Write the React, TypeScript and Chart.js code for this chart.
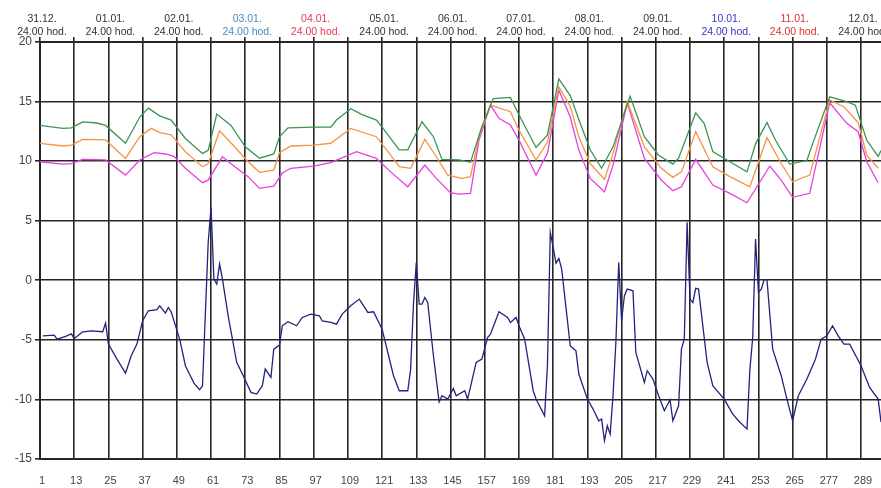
import React, { useEffect, useRef } from "react";
import { Chart, registerables } from "chart.js";

Chart.register(...registerables);

// ---- axis labels ----
const xTickValues = [1, 13, 25, 37, 49, 61, 73, 85, 97, 109, 121, 133, 145, 157, 169, 181, 193, 205, 217, 229, 241, 253, 265, 277, 289];
const dayTickValues = [1, 25, 49, 73, 97, 121, 145, 169, 193, 217, 241, 265, 289];
const dayLabels = ["31.12.", "01.01.", "02.01.", "03.01.", "04.01.", "05.01.", "06.01.", "07.01.", "08.01.", "09.01.", "10.01.", "11.01.", "12.01."];
const dayLabelColors = ["#333", "#333", "#333", "#4a8cc0", "#e8384f", "#333", "#333", "#333", "#333", "#333", "#3535c8", "#e03030", "#333"];
const timeLabel = "24.00 hod.";
const yTickValues = [-15, -10, -5, 0, 5, 10, 15, 20];

// ---- green series ----
const greenHours = [1, 9, 12, 16, 21, 24, 31, 36, 39, 43, 47, 52, 58, 60, 63, 68, 73, 78, 83, 85, 88, 97, 103, 105, 110, 114, 119, 121, 127, 130, 135, 139, 142, 148, 152, 156, 160, 166, 169, 175, 179, 183, 187, 190, 194, 198, 202, 208, 213, 218, 223, 225, 231, 234, 237, 243, 249, 252, 256, 259, 264, 270, 272, 278, 284, 287, 291, 295, 296];
const greenValues = [13.0, 12.75, 12.8, 13.3, 13.2, 13.0, 11.5, 13.7, 14.45, 13.8, 13.45, 11.9, 10.65, 10.9, 13.95, 13.0, 11.2, 10.25, 10.6, 12.05, 12.8, 12.85, 12.85, 13.45, 14.4, 13.9, 13.45, 12.85, 10.95, 10.95, 13.3, 12.05, 10.15, 10.1, 9.9, 12.9, 15.25, 15.35, 13.9, 11.15, 12.2, 16.9, 15.5, 13.5, 10.95, 9.4, 11.2, 15.45, 12.05, 10.5, 9.75, 10.25, 14.05, 13.15, 10.8, 9.95, 9.1, 11.45, 13.25, 11.75, 9.75, 10.05, 11.45, 15.4, 15.0, 14.7, 11.75, 10.4, 10.9];

// ---- orange series ----
const orangeHours = [1, 9, 12, 16, 24, 31, 36, 40, 43, 47, 52, 58, 60, 64, 69, 74, 78, 83, 85, 89, 97, 103, 110, 119, 124, 127, 131, 136, 140, 144, 149, 152, 155, 159, 166, 169, 175, 179, 183, 187, 190, 194, 199, 202, 207, 213, 219, 223, 226, 231, 237, 243, 250, 256, 261, 265, 271, 278, 283, 288, 291, 295];
const orangeValues = [11.5, 11.27, 11.35, 11.83, 11.78, 10.23, 12.05, 12.75, 12.4, 12.2, 10.79, 9.53, 9.8, 12.55, 11.27, 9.95, 9.06, 9.25, 10.7, 11.27, 11.35, 11.5, 12.75, 12.05, 10.51, 9.53, 9.4, 11.83, 10.37, 8.83, 8.55, 8.7, 12.05, 14.71, 14.15, 12.61, 10.09, 11.6, 16.25, 14.6, 12.05, 9.8, 8.47, 10.65, 14.99, 11.2, 9.4, 8.64, 9.1, 12.47, 9.53, 8.7, 7.85, 11.97, 9.8, 8.27, 8.83, 15.13, 14.57, 13.23, 10.51, 9.4];

// ---- magenta series ----
const magentaHours = [1, 9, 12, 16, 24, 31, 36, 41, 45, 48, 52, 58, 60, 65, 69, 74, 78, 83, 86, 89, 97, 103, 112, 119, 124, 130, 136, 140, 145, 148, 152, 155, 159, 162, 166, 169, 175, 179, 183, 187, 190, 194, 199, 202, 207, 213, 219, 223, 226, 231, 237, 243, 249, 257, 261, 265, 271, 278, 284, 288, 291, 295];
const magentaValues = [9.95, 9.75, 9.8, 10.15, 10.1, 8.83, 10.1, 10.71, 10.6, 10.4, 9.4, 8.19, 8.4, 10.37, 9.6, 8.7, 7.71, 7.9, 9.0, 9.4, 9.59, 9.87, 10.79, 10.23, 9.1, 7.85, 9.67, 8.55, 7.35, 7.24, 7.3, 11.78, 14.71, 13.59, 13.03, 11.77, 8.83, 10.65, 15.97, 13.7, 10.93, 8.55, 7.43, 9.67, 14.9, 10.23, 8.4, 7.52, 7.85, 10.15, 7.99, 7.3, 6.51, 9.59, 8.4, 6.96, 7.3, 14.9, 13.17, 12.47, 9.95, 8.19];

// ---- navy series ----
const navyHours = [2, 6, 7, 10, 12, 13, 16, 19, 23, 24, 25, 28, 31, 33, 35, 37, 39, 42, 43, 45, 46, 47, 50, 52, 55, 57, 58, 60, 61, 62, 63, 64, 65, 67, 70, 72, 75, 77, 79, 80, 82, 83, 85, 86, 88, 91, 93, 96, 99, 100, 103, 105, 107, 110, 113, 116, 118, 121, 123, 125, 127, 130, 131, 132, 133, 134, 135, 136, 137, 139, 141, 142, 144, 146, 147, 150, 151, 154, 156, 158, 159, 162, 165, 166, 168, 169, 171, 174, 175, 178, 179, 180, 181, 182, 183, 184, 187, 189, 190, 193, 195, 197, 198, 199, 200, 201, 202, 203, 204, 205, 206, 207, 209, 210, 213, 214, 216, 218, 220, 222, 223, 225, 226, 227, 228, 229, 230, 231, 232, 235, 237, 241, 244, 246, 249, 250, 251, 252, 253, 254, 255, 256, 258, 261, 263, 265, 267, 270, 273, 275, 277, 279, 281, 283, 285, 289, 292, 295, 296];
const navyValues = [-4.66, -4.6, -4.94, -4.7, -4.5, -4.88, -4.32, -4.24, -4.32, -3.59, -5.36, -6.62, -7.79, -6.33, -5.36, -3.4, -2.56, -2.47, -2.14, -2.75, -2.28, -2.64, -4.94, -7.17, -8.63, -9.19, -8.85, 3.18, 6.12, 0.1, -0.32, 1.36, 0.1, -2.98, -6.89, -7.87, -9.41, -9.55, -8.85, -7.45, -8.15, -5.78, -5.44, -3.82, -3.48, -3.82, -3.12, -2.84, -2.98, -3.4, -3.54, -3.68, -2.84, -2.14, -1.58, -2.7, -2.64, -4.1, -6.06, -8.01, -9.27, -9.27, -7.5, -2.0, 1.5, -2.0, -2.0, -1.44, -1.86, -6.33, -10.2, -9.69, -9.97, -9.08, -9.69, -9.27, -9.97, -6.89, -6.62, -4.8, -4.52, -2.64, -3.12, -3.54, -3.12, -3.82, -4.94, -9.27, -9.97, -11.37, -7.17, 4.02, 2.76, 1.44, 1.84, 0.94, -5.5, -5.92, -7.87, -9.97, -10.81, -11.79, -11.65, -13.47, -12.21, -12.91, -9.69, -5.22, 1.5, -3.4, -1.3, -0.74, -0.88, -6.06, -8.57, -7.59, -8.29, -9.69, -10.95, -10.03, -11.79, -10.53, -5.78, -4.94, 4.86, -1.58, -1.86, -0.68, -0.74, -6.89, -8.85, -9.97, -11.23, -11.79, -12.49, -7.5, -4.8, 3.46, -1.02, -0.74, 0.05, 0.05, -5.78, -8.01, -9.97, -11.79, -9.69, -8.29, -6.62, -4.94, -4.66, -3.82, -4.66, -5.36, -5.36, -7.17, -8.99, -9.97, -11.9];

const toPoints = (hours: number[], values: number[]) => hours.map((h, i) => ({ x: h, y: values[i] }));

const FONT = "'Liberation Sans', Arial, sans-serif";
const GRID = "#262626";

export default function App() {
  const ref = useRef<HTMLCanvasElement | null>(null);

  useEffect(() => {
    if (!ref.current) return;
    const chart = new Chart(ref.current, {
      type: "line",
      data: {
        datasets: [
          { data: toPoints(greenHours, greenValues), borderColor: "#3a9550", borderWidth: 1.3, pointRadius: 0, xAxisID: "x", yAxisID: "y" },
          { data: toPoints(orangeHours, orangeValues), borderColor: "#f59445", borderWidth: 1.3, pointRadius: 0, xAxisID: "x", yAxisID: "y" },
          { data: toPoints(magentaHours, magentaValues), borderColor: "#e640dc", borderWidth: 1.3, pointRadius: 0, xAxisID: "x", yAxisID: "y" },
          { data: toPoints(navyHours, navyValues), borderColor: "#23237e", borderWidth: 1.3, pointRadius: 0, xAxisID: "x", yAxisID: "y" },
        ],
      },
      options: {
        animation: false,
        responsive: false,
        maintainAspectRatio: false,
        layout: { padding: 0 },
        plugins: { legend: { display: false }, tooltip: { enabled: false } },
        scales: {
          x: {
            type: "linear",
            position: "bottom",
            min: 1,
            max: 296,
            afterBuildTicks: (scale: any) => {
              scale.ticks = xTickValues.map((v) => ({ value: v }));
            },
            afterFit: (scale: any) => {
              scale.height = 29;
              scale.paddingLeft = 0;
              scale.paddingRight = 0;
            },
            grid: { color: GRID, lineWidth: 1.6, drawTicks: false },
            border: { display: true, color: GRID, width: 2 },
            ticks: {
              autoSkip: false,
              maxRotation: 0,
              padding: 15,
              labelOffset: 2,
              color: "#444",
              font: { family: FONT, size: 11 },
              callback: (v: any) => String(v),
            },
          },
          xTop: {
            type: "linear",
            position: "top",
            min: 1,
            max: 296,
            afterBuildTicks: (scale: any) => {
              scale.ticks = xTickValues.map((v) => ({ value: v }));
            },
            afterFit: (scale: any) => {
              scale.height = 42;
              scale.paddingLeft = 0;
              scale.paddingRight = 0;
            },
            grid: { color: GRID, lineWidth: 1.6, drawOnChartArea: false, tickLength: 5 },
            border: { display: true, color: GRID, width: 2 },
            ticks: {
              autoSkip: false,
              maxRotation: 0,
              padding: -2,
              labelOffset: 2,
              color: (ctx: any) => {
                const i = dayTickValues.indexOf(ctx.tick?.value);
                return i >= 0 ? dayLabelColors[i] : "#333";
              },
              font: { family: FONT, size: 10.5, lineHeight: 1.25 },
              callback: (v: any) => {
                const i = dayTickValues.indexOf(v);
                return i >= 0 ? [dayLabels[i], timeLabel] : "";
              },
            },
          },
          y: {
            type: "linear",
            position: "left",
            min: -15,
            max: 20,
            afterBuildTicks: (scale: any) => {
              scale.ticks = yTickValues.map((v) => ({ value: v }));
            },
            afterFit: (scale: any) => {
              scale.width = 40;
            },
            grid: { color: GRID, lineWidth: 1.6, tickLength: 5 },
            border: { display: true, color: GRID, width: 2 },
            ticks: {
              padding: 3,
              color: "#444",
              font: { family: FONT, size: 12 },
              callback: (v: any) => String(v),
            },
          },
        },
      },
    } as any);
    return () => chart.destroy();
  }, []);

  return (
    <div style={{ position: "fixed", left: 0, top: 0, width: 881, height: 488, background: "#fff" }}>
      <canvas ref={ref} width={881} height={488} style={{ display: "block", width: 881, height: 488 }} />
    </div>
  );
}
